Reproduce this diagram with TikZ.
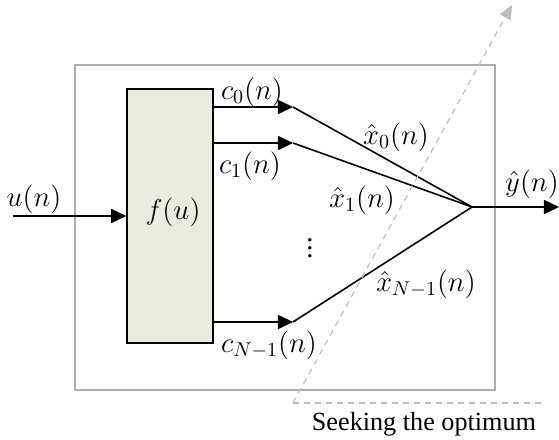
\documentclass[tikz,border=0pt]{standalone}
\usepackage[no-math]{fontspec}
\setmainfont{Liberation Serif}
\usetikzlibrary{arrows.meta}
\definecolor{framegray}{RGB}{172,172,178}
\definecolor{dashgray}{RGB}{190,190,190}
\definecolor{boxfill}{RGB}{235,235,224}
\tikzset{
  lbl/.style={inner sep=0pt, font=\fontsize{14.2}{16}\selectfont},
  sig/.style={line width=0.8pt, -{Triangle[length=7.5pt,width=7pt]}},
  wire/.style={line width=0.8pt},
  seek/.style={dashgray, line width=0.6pt, dash pattern=on 3pt off 2.5pt},
}
\begin{document}
\begin{tikzpicture}[x=0.5pt,y=-0.5pt]
\useasboundingbox (0,0) rectangle (559,440);
% outer frame
\node[draw=framegray, line width=1.1pt, minimum width=210pt, minimum height=162.5pt, inner sep=0pt] (frame) at (285,227.5) {};
% f(u) box
\node[draw=black, fill=boxfill, line width=0.8pt, minimum width=43pt, minimum height=127pt, inner sep=0pt] (f) at (170,216) {};
\node[lbl] (flbl) at (173,212) {$f(u)$};
% coordinates
\coordinate (uin) at (13,216);
\coordinate (c0) at (293,107);
\coordinate (c1) at (293,143);
\coordinate (cN) at (293,322);
\coordinate (m) at (472,207);
\coordinate (yout) at (559,207);
\coordinate (s0) at (293,403);
\coordinate (s1) at (512,5);
\coordinate (s2) at (541,403);
% input
\draw[sig] (uin) -- (f.west);
\node[lbl] (ulbl) at (34,199) {$u(n)$};
% outputs of f
\draw[sig] (f.east |- c0) -- (c0);
\draw[sig] (f.east |- c1) -- (c1);
\draw[sig] (f.east |- cN) -- (cN);
\node[lbl] (c0lbl) at (252,92) {$c_0(n)$};
\node[lbl] (c1lbl) at (250,166) {$c_1(n)$};
\node[lbl] (cNlbl) at (269,345) {$c_{N-1}(n)$};
% combining lines
\draw[wire] (c0) -- (m);
\draw[wire] (c1) -- (m);
\draw[wire] (cN) -- (m);
\draw[sig] (m) -- (yout);
\node[lbl] (ylbl) at (532,184) {$\hat{y}(n)$};
\node[lbl] (x0lbl) at (396,137) {$\hat{x}_0(n)$};
\node[lbl] (x1lbl) at (362,200) {$\hat{x}_1(n)$};
\node[lbl] (xNlbl) at (426,284) {$\hat{x}_{N-1}(n)$};
\node[lbl] (dots) at (310,242) {$\vdots$};
% seeking the optimum
\draw[seek] (s2) -- (s0);
\draw[seek, -{Triangle[length=7pt,width=6pt]}] (s0) -- (s1);
\node[inner sep=0pt, anchor=base, font=\fontsize{13.1}{15}\selectfont] (seektxt) at (424,430) {Seeking the optimum};
\end{tikzpicture}
\end{document}
